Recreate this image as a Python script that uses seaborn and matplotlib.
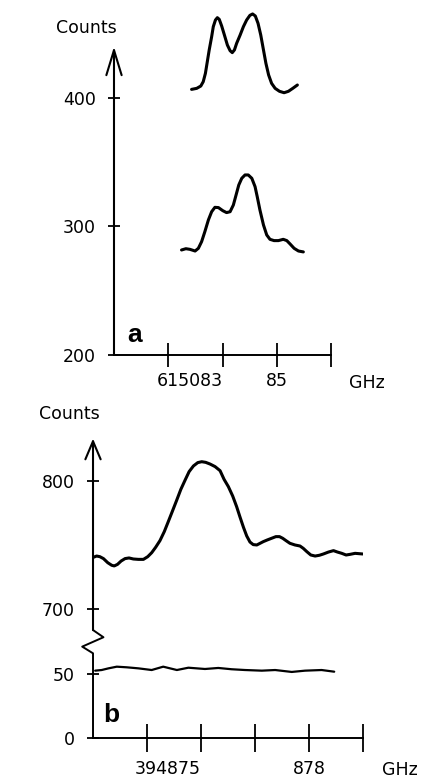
import matplotlib
matplotlib.use("Agg")
import matplotlib.pyplot as plt
import seaborn as sns

# ── panel a : 615083 GHz region (GHz offset from 615000) ─────────────────────
a_upper_f = [81.86, 82.05, 82.20, 82.29, 82.37, 82.44, 82.51, 82.60, 82.66,
             82.74, 82.81, 82.88, 82.97, 83.07, 83.18, 83.28, 83.36, 83.44,
             83.52, 83.65, 83.77, 83.89, 84.01, 84.11, 84.21, 84.31, 84.41,
             84.51, 84.60, 84.70, 84.81, 84.94, 85.10, 85.27, 85.43, 85.59,
             85.76]
a_upper_c = [406.7, 407.5, 409.3, 412.7, 419.2, 428.3, 437.4, 447.7, 455.5,
             460.7, 462.5, 461.2, 456.0, 449.0, 441.2, 436.8, 435.3, 437.4,
             442.5, 449.0, 455.5, 460.7, 464.3, 465.4, 463.8, 458.1, 449.0,
             437.4, 427.0, 417.9, 411.4, 407.5, 405.2, 404.1, 405.2, 407.5,
             410.1]

a_lower_f = [81.49, 81.65, 81.80, 81.99, 82.11, 82.23, 82.35, 82.48, 82.60,
             82.72, 82.85, 83.01, 83.15, 83.28, 83.40, 83.50, 83.60, 83.71,
             83.83, 83.95, 84.08, 84.20, 84.28, 84.38, 84.51, 84.63, 84.75,
             84.90, 85.06, 85.24, 85.37, 85.49, 85.64, 85.80, 85.98]
a_lower_c = [281.7, 282.7, 282.2, 280.9, 283.0, 288.2, 296.0, 305.1, 311.5,
             314.9, 314.7, 312.3, 310.8, 311.5, 316.7, 324.5, 332.3, 337.5,
             340.1, 340.1, 337.5, 331.0, 323.2, 312.8, 301.2, 293.4, 290.0,
             289.0, 289.0, 290.0, 289.0, 286.4, 283.0, 280.9, 280.2]

a_xticks = [81, 83, 85, 87]
a_xticklabels = ["", "615083", "85", ""]
a_yticks = [200, 300, 400]

# ── panel b : 394875 GHz region (GHz offset from 394000) ─────────────────────
b_upper_f = [872.01, 872.10, 872.19, 872.29, 872.41, 872.52, 872.59, 872.68,
             872.78, 872.89, 873.00, 873.12, 873.26, 873.40, 873.52, 873.63,
             873.74, 873.86, 873.98, 874.09, 874.20, 874.32, 874.44, 874.56,
             874.67, 874.79, 874.91, 875.02, 875.13, 875.25, 875.39, 875.53,
             875.64, 875.76, 875.88, 875.99, 876.08, 876.18, 876.27, 876.36,
             876.45, 876.55, 876.64, 876.73, 876.84, 876.96, 877.08, 877.18,
             877.27, 877.36, 877.47, 877.61, 877.75, 877.84, 877.94, 878.05,
             878.17, 878.29, 878.40, 878.54, 878.68, 878.79, 878.91, 879.03,
             879.14, 879.28, 879.49]
b_upper_c = [740.6, 741.6, 741.1, 739.6, 736.4, 734.4, 733.9, 735.1,
             737.7, 739.6, 740.1, 739.3, 739.0, 739.0, 741.1, 744.2,
             748.4, 753.6, 760.6, 768.3, 776.1, 784.7, 793.5, 800.8,
             807.3, 811.7, 814.3, 815.0, 814.5, 813.2, 811.2, 808.0,
             801.3, 795.6, 788.3, 780.0, 772.2, 763.9, 757.2, 752.5,
             750.5, 750.2, 751.5, 752.8, 754.1, 755.4, 756.7, 756.7,
             755.4, 753.6, 751.5, 750.2, 749.4, 747.6, 745.0, 742.4,
             741.6, 742.2, 743.2, 744.7, 745.8, 744.7, 743.7, 742.4,
             742.9, 743.7, 743.2]

b_lower_f = [872.06, 872.24, 872.43, 872.66, 872.94, 873.26, 873.63, 873.95,
             874.33, 874.65, 875.11, 875.48, 875.85, 876.22, 876.69, 877.06,
             877.52, 877.89, 878.35, 878.70]
b_lower_c = [52.4, 52.9, 54.2, 55.5, 55.0, 54.2, 52.9, 55.5,
             52.9, 54.7, 53.7, 54.5, 53.5, 52.9, 52.4, 52.9,
             51.4, 52.4, 52.9, 51.6]

b_break = 600   # counts removed from the upper trace (axis break 50 -> 700)
b_xticks = [873.5, 875, 876.5, 878, 879.5]
b_xticklabels = ["", "394875", "", "878", ""]
b_yticks = [0, 50, 100, 200]
b_yticklabels = ["0", "50", "700", "800"]

sns.set_style("white")
plt.rcParams["font.family"] = ["DejaVu Sans"]
plt.rcParams["text.color"] = "black"

line_kw = dict(color="black", sort=False, solid_joinstyle="round",
               solid_capstyle="round")

fig = plt.figure(figsize=(4.3, 7.81), dpi=100)
ax_a = fig.add_axes([0.2651, 0.5455, 0.5047, 0.4442])
ax_b = fig.add_axes([0.2163, 0.05506, 0.6279, 0.3949])

for ax in (ax_a, ax_b):
    ax.set_facecolor("white")
    for side in ("top", "right", "left"):
        ax.spines[side].set_visible(False)
    ax.spines["bottom"].set_color("black")
    ax.spines["bottom"].set_linewidth(1.4)
    ax.tick_params(axis="both", colors="black", width=1.3, labelsize=12.5)

# ── panel a ──────────────────────────────────────────────────────────────────
sns.lineplot(x=a_upper_f, y=a_upper_c, ax=ax_a, lw=2.2, **line_kw)
sns.lineplot(x=a_lower_f, y=a_lower_c, ax=ax_a, lw=2.2, **line_kw)
ax_a.set_xlim(79, 87)
ax_a.set_ylim(200, 470)
ax_a.spines["bottom"].set_bounds(79, 87)
ax_a.set_xticks(a_xticks)
ax_a.set_xticklabels(a_xticklabels)
ax_a.get_xticklabels()[1].set_ha("right")
ax_a.set_yticks(a_yticks)
ax_a.tick_params(axis="x", direction="inout", length=17, pad=4, bottom=True)
ax_a.tick_params(axis="y", direction="inout", length=8, pad=9, left=True)
ax_a.annotate("", xy=(79, 440), xytext=(79, 200),
              arrowprops=dict(arrowstyle="->,head_length=1.8,head_width=0.55",
                              lw=1.5, color="black", shrinkA=0, shrinkB=0))
ax_a.text(78.0, 454.5, "Counts", ha="center", va="center", fontsize=12.5)
ax_a.text(88.33, 178.2, "GHz", ha="center", va="center", fontsize=12.5,
          clip_on=False)
ax_a.text(79.77, 215.6, "a", ha="center", va="center", fontsize=19,
          fontweight="bold", family=["Liberation Sans", "DejaVu Sans"])
ax_a.set_xlabel("")
ax_a.set_ylabel("")

# ── panel b ──────────────────────────────────────────────────────────────────
b_upper_shift = [c - b_break for c in b_upper_c]
sns.lineplot(x=b_upper_f, y=b_upper_shift, ax=ax_b, lw=2.2, **line_kw)
sns.lineplot(x=b_lower_f, y=b_lower_c, ax=ax_b, lw=1.6, **line_kw)
ax_b.set_xlim(872, 879.5)
ax_b.set_ylim(0, 240)
ax_b.spines["bottom"].set_bounds(872, 879.5)
ax_b.set_xticks(b_xticks)
ax_b.set_xticklabels(b_xticklabels)
ax_b.get_xticklabels()[1].set_ha("right")
ax_b.set_yticks(b_yticks)
ax_b.set_yticklabels(b_yticklabels)
ax_b.tick_params(axis="x", direction="inout", length=20, pad=6, bottom=True)
ax_b.tick_params(axis="y", direction="inout", length=8, pad=9, left=True)

# broken y axis with zigzag between 50 and 700
ax_b.plot([872, 872, 871.70, 872.29, 872], [0, 65.9, 71.1, 78.4, 84],
          color="black", lw=1.4, clip_on=False)
ax_b.annotate("", xy=(872, 233), xytext=(872, 84),
              arrowprops=dict(arrowstyle="->,head_length=1.3,head_width=0.55",
                              lw=1.5, color="black", shrinkA=0, shrinkB=0))
ax_b.text(871.33, 252.1, "Counts", ha="center", va="center", fontsize=12.5,
          clip_on=False)
ax_b.text(880.53, -24.9, "GHz", ha="center", va="center", fontsize=12.5,
          clip_on=False)
ax_b.text(872.5, 17.9, "b", ha="center", va="center", fontsize=19,
          fontweight="bold", family=["Liberation Sans", "DejaVu Sans"])
ax_b.set_xlabel("")
ax_b.set_ylabel("")

fig.savefig("out.png", dpi=100, facecolor="white")
